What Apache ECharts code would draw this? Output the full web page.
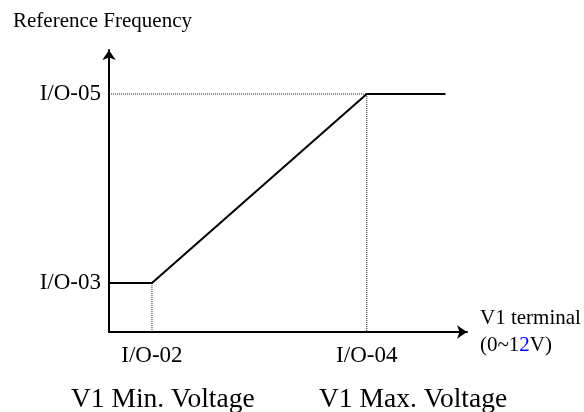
<!DOCTYPE html>
<html>
<head>
<meta charset="utf-8">
<script src="https://cdn.jsdelivr.net/npm/echarts@6/dist/echarts.min.js"></script>
<style>
html,body{margin:0;padding:0;background:#fff;}
#chart{width:584px;height:412px;}
</style>
</head>
<body>
<div id="chart"></div>
<script>
// Curve points (arbitrary units, axis 0..100)
const curveX = [0, 12, 72, 94];
const curveY = [17.4, 17.4, 84.4, 84.4];
// Parameter positions and tick labels
const xTickValues = [12, 72];
const xTickLabels = ['I/O-02', 'I/O-04'];
const yTickValues = [17.4, 84.4];
const yTickLabels = ['I/O-03', 'I/O-05'];
const xCaptions = ['V1 Min. Voltage', 'V1 Max. Voltage'];
const yAxisTitle = 'Reference Frequency';
const xAxisTitle = ['V1 terminal', '(0~1', '2', 'V)'];

const FONT = '"Liberation Serif", "Times New Roman", serif';
const chart = echarts.init(document.getElementById('chart'), null, {renderer: 'canvas'});

const curve = curveX.map((x, i) => [x, curveY[i]]);
const guides = [
  [[0, curveY[2]], [curveX[2], curveY[2]]],
  [[curveX[2], curveY[2]], [curveX[2], 0]],
  [[curveX[1], curveY[1]], [curveX[1], 0]]
];

const dotted = guides.map(g => ({
  type: 'line', data: g, showSymbol: false, silent: true, z: 1,
  lineStyle: {color: '#222', width: 1, type: [1, 1]}
}));

chart.setOption({
  animation: false,
  backgroundColor: '#fff',
  textStyle: {fontFamily: FONT, color: '#000'},
  title: {
    text: yAxisTitle, left: 8, top: 6,
    textStyle: {fontFamily: FONT, fontSize: 21, fontWeight: 'normal', color: '#000'}
  },
  grid: {left: 109, right: 117, top: 50, bottom: 80},
  xAxis: {
    type: 'value', min: 0, max: 100,
    splitLine: {show: false},
    axisTick: {show: false},
    axisLine: {show: true, lineStyle: {color: '#000', width: 2},
      symbol: ['none', 'arrow'], symbolSize: [10, 10]},
    axisLabel: {
      customValues: xTickValues,
      formatter: v => xTickLabels[xTickValues.indexOf(v)],
      fontFamily: FONT, fontSize: 23, color: '#000', margin: 12
    },
    name: '{a|' + xAxisTitle[0] + '}\n{a|' + xAxisTitle[1] + '}{b|' + xAxisTitle[2] + '}{a|' + xAxisTitle[3] + '}',
    nameLocation: 'end', nameGap: 13,
    nameTextStyle: {
      align: 'left', verticalAlign: 'middle',
      rich: {
        a: {fontFamily: FONT, fontSize: 21, color: '#000', lineHeight: 27},
        b: {fontFamily: FONT, fontSize: 21, color: '#0000ff', lineHeight: 27}
      }
    }
  },
  yAxis: {
    type: 'value', min: 0, max: 100,
    splitLine: {show: false},
    axisTick: {show: false},
    axisLine: {show: true, lineStyle: {color: '#000', width: 2},
      symbol: ['none', 'arrow'], symbolSize: [10, 10]},
    axisLabel: {
      customValues: yTickValues,
      formatter: v => yTickLabels[yTickValues.indexOf(v)],
      fontFamily: FONT, fontSize: 23, color: '#000', margin: 8
    }
  },
  graphic: [
    {type: 'text', left: 71, top: 386, style: {text: xCaptions[0], font: '27.5px ' + FONT, fill: '#000'}},
    {type: 'text', left: 319, top: 386, style: {text: xCaptions[1], font: '27.5px ' + FONT, fill: '#000'}}
  ],
  series: [
    {type: 'line', data: curve, showSymbol: false, z: 3,
      lineStyle: {color: '#000', width: 2}}
  ].concat(dotted)
});
</script>
</body>
</html>
